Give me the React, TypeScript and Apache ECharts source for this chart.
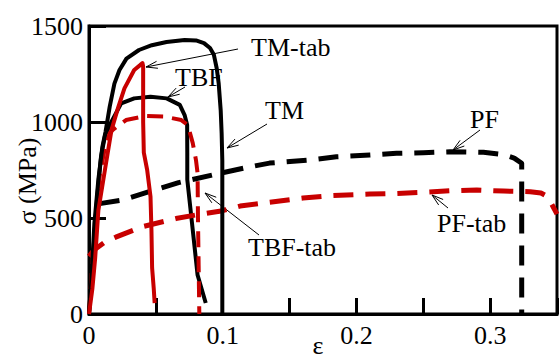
import React, { useEffect, useRef } from "react";
import * as echarts from "echarts";

const xTicks = [0, 0.1, 0.2, 0.3];
const yTicks = [0, 500, 1000, 1500];

const tm = [[0,0],[0.002,200],[0.004,470],[0.007,700],[0.010,870],[0.0124,950],[0.0155,1080],[0.019,1200],[0.0228,1271],[0.028,1330],[0.0374,1375],[0.047,1400],[0.058,1417],[0.0715,1427],[0.08,1425],[0.086,1411],[0.0905,1385],[0.0934,1350],[0.0955,1280],[0.097,1200],[0.0985,1060],[0.0992,940],[0.0997,800],[0.0997,0]];
const tmTab = [[0,0],[0.0025,130],[0.0046,290],[0.007,540],[0.0119,750],[0.0168,958],[0.0216,1071],[0.0265,1175],[0.0338,1271],[0.038,1295],[0.040,1307],[0.0405,1290],[0.0405,1000],[0.041,840],[0.0435,750],[0.046,611],[0.0467,437],[0.0472,240],[0.0484,135],[0.0491,57]];
const tbf = [[0,0],[0.003,300],[0.006,600],[0.009,820],[0.012,930],[0.0168,1002],[0.0241,1097],[0.0338,1123],[0.046,1132],[0.0581,1123],[0.0679,1089],[0.0715,1036],[0.0734,984],[0.0735,840],[0.0735,700],[0.0776,437],[0.0812,203],[0.0873,57]];
const tbfTab = [[0,0],[0.004,420],[0.008,720],[0.012,870],[0.0155,942],[0.018,960],[0.0277,1010],[0.0423,1031],[0.0569,1028],[0.069,1010],[0.0739,984],[0.0776,890],[0.080,802],[0.0812,733],[0.0815,500],[0.082,250],[0.0825,0]];
const pf = [[0.008,575],[0.025,594],[0.045,637],[0.067,684],[0.1,736],[0.12,766],[0.135,786],[0.165,802],[0.185,819],[0.21,828],[0.23,837],[0.25,840],[0.27,845],[0.295,842],[0.31,830],[0.318,812],[0.3236,785],[0.3236,0]];
const pfTab = [[0,300],[0.004,335],[0.012,375],[0.02,400],[0.04,455],[0.065,497],[0.08,516],[0.1,538],[0.113,562],[0.135,582],[0.16,604],[0.18,616],[0.21,625],[0.23,628],[0.25,634],[0.27,642],[0.29,646],[0.31,640],[0.33,637],[0.338,630],[0.342,615],[0.345,585],[0.347,560],[0.35,520]];

const labels = [
  { text: "TM-tab", x: 251, y: 47, from: [238, 49], to: [146, 67] },
  { text: "TBF", x: 175, y: 77, from: [185, 87], to: [168, 97] },
  { text: "TM", x: 265, y: 110, from: [267, 124], to: [227, 148] },
  { text: "PF", x: 470, y: 119, from: [480, 130], to: [453, 150] },
  { text: "TBF-tab", x: 248, y: 247, from: [259, 235], to: [205, 193] },
  { text: "PF-tab", x: 437, y: 223, from: [448, 208], to: [432, 195] },
];

const RED = "#c80000";
const SERIF = "Liberation Serif";

function arrow(from: number[], to: number[]) {
  const ang = Math.atan2(from[1] - to[1], from[0] - to[0]);
  const len = 12;
  const a1 = ang + 0.3, a2 = ang - 0.3;
  return [
    { type: "line", shape: { x1: from[0], y1: from[1], x2: to[0], y2: to[1] }, style: { stroke: "#000", lineWidth: 1 } },
    {
      type: "polyline",
      shape: { points: [[to[0] + len * Math.cos(a1), to[1] + len * Math.sin(a1)], to, [to[0] + len * Math.cos(a2), to[1] + len * Math.sin(a2)]] },
      style: { stroke: "#000", lineWidth: 1, fill: null },
    },
  ];
}

export default function App() {
  const ref = useRef<HTMLDivElement>(null);
  useEffect(() => {
    if (!ref.current) return;
    const chart = echarts.init(ref.current, null, { renderer: "svg" });
    const txt = (t: string, x: number, y: number, align: string, extra: any = {}) => ({
      type: "text", z: 1, ...extra,
      style: { text: t, x, y, font: `26px ${SERIF}`, fill: "#000", textAlign: align, textVerticalAlign: "middle" },
    });
    const graphic: any[] = [];
    labels.forEach((l) => {
      graphic.push(txt(l.text, l.x, l.y, "left"));
      graphic.push(...arrow(l.from, l.to));
    });
    graphic.push(txt("ε", 318, 345, "center"));
    graphic.push({ ...txt("σ (MPa)", 0, 0, "center"), x: 27, y: 181, rotation: Math.PI / 2 });

    const line = (name: string, data: number[][], color: string, width: number, type: any) => ({
      name, type: "line", data, showSymbol: false, symbol: "none", smooth: false,
      lineStyle: { color, width, type, cap: "butt", join: "round" },
      z: 3,
    });

    chart.setOption({
      animation: false,
      grid: { left: 89, top: 26, width: 479, height: 288, show: true, borderColor: "#000", borderWidth: 3, backgroundColor: "transparent" },
      xAxis: {
        type: "value", min: 0, max: 0.35, interval: 0.05,
        axisLine: { show: true, lineStyle: { color: "#000", width: 3 } },
        axisTick: { show: true, inside: true, length: 16, lineStyle: { color: "#000", width: 3 } },
        splitLine: { show: false },
        axisLabel: {
          color: "#000", fontFamily: SERIF, fontSize: 26, margin: 8,
          formatter: (v: number) => {
            const t = xTicks.find((k) => Math.abs(k - v) < 1e-6);
            return t === undefined ? "" : String(t);
          },
        },
      },
      yAxis: {
        type: "value", min: 0, max: 1500, interval: 500,
        axisLine: { show: true, lineStyle: { color: "#000", width: 3 } },
        axisTick: { show: true, inside: true, length: 17, lineStyle: { color: "#000", width: 3 } },
        splitLine: { show: false },
        axisLabel: {
          color: "#000", fontFamily: SERIF, fontSize: 26, margin: 6,
          formatter: (v: number) => (yTicks.includes(v) ? String(v) : ""),
        },
      },
      graphic,
      series: [
        line("TBF", tbf, "#000", 4, "solid"),
        line("TBF-tab", tbfTab, RED, 4, [16, 9]),
        line("PF", pf, "#000", 5, [20, 12]),
        line("PF-tab", pfTab, RED, 5, [20, 12]),
        line("TM", tm, "#000", 4, "solid"),
        line("TM-tab", tmTab, RED, 4, "solid"),
      ],
    });
    return () => chart.dispose();
  }, []);
  return <div ref={ref} style={{ position: "absolute", left: 0, top: 0, width: 560, height: 358, background: "#fff" }} />;
}
